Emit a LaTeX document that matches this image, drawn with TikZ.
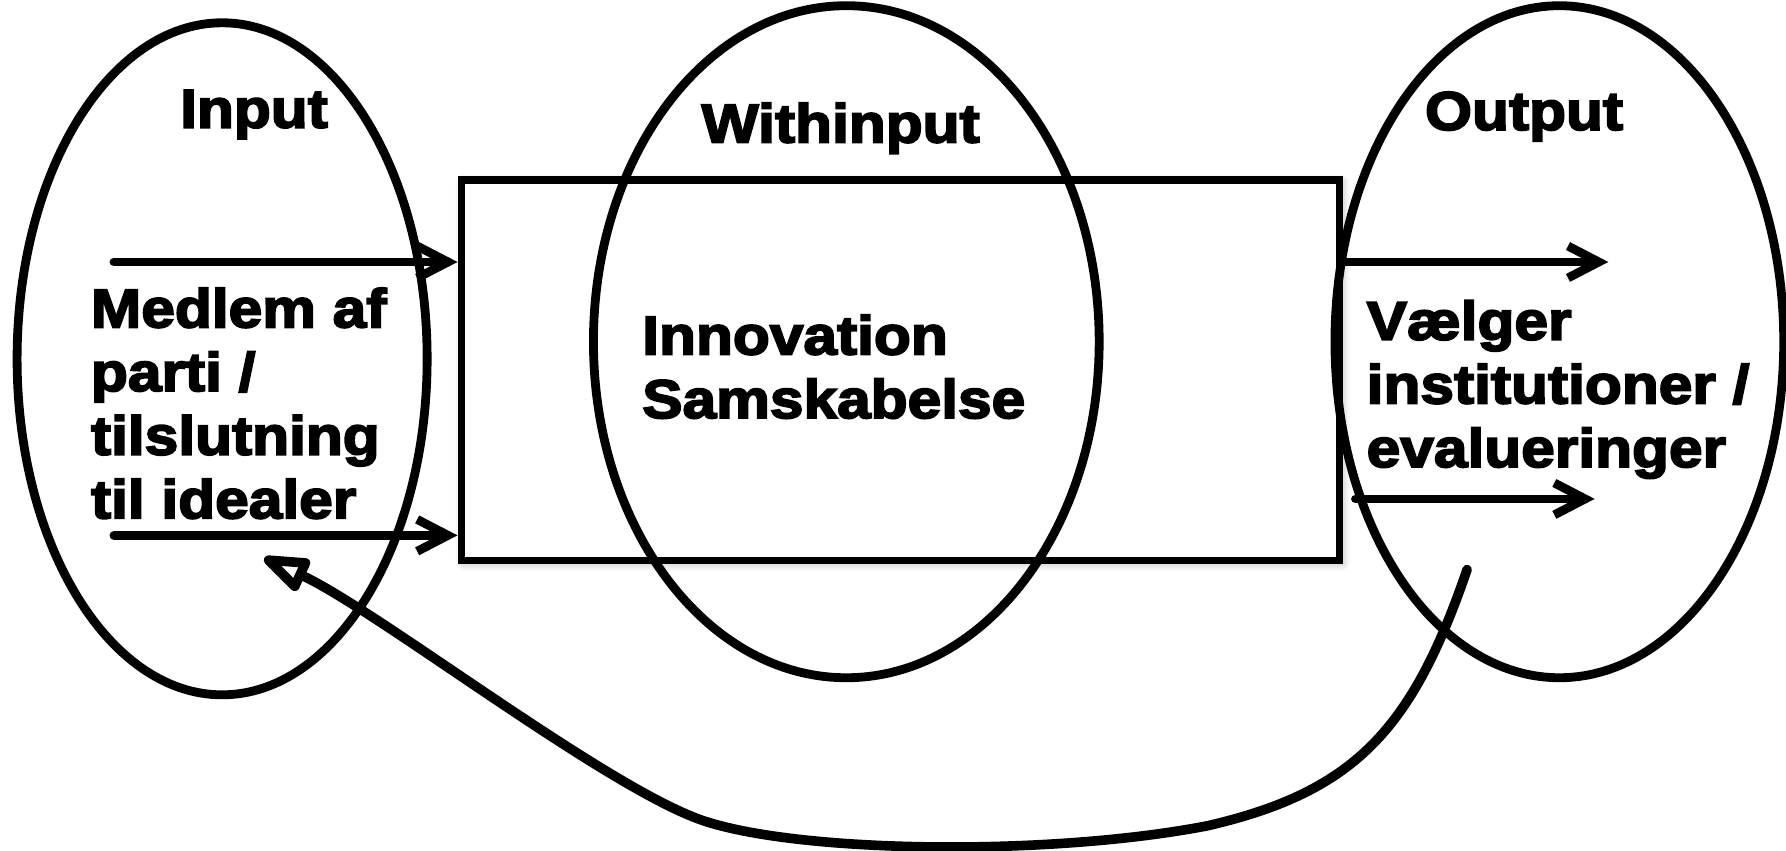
\documentclass[tikz,border=0pt]{standalone}
\usepackage{fontspec}
\newfontfamily\diafont{Liberation Sans Bold}[FakeStretch=1.11,FakeBold=3.5]
\usetikzlibrary{arrows.meta,shapes.geometric,shadows.blur}
\begin{document}
\begin{tikzpicture}[line width=2.2pt,
    every node/.style={font=\diafont\fontsize{13.6pt}{15.9pt}\selectfont, inner sep=0pt},
    sphere/.style={draw, ellipse, minimum height=5.90cm},
    title/.style={anchor=base},
    txt/.style={align=left, anchor=base west},
    flow/.style={-{Straight Barb[length=0.27cm,width=0.28cm]}, line cap=round}]
  \useasboundingbox (0,0) rectangle (15.68,-7.47);
  %\draw [help lines] (0,0) grid (16,-8);
  \node[draw, fill=white, line width=1.9pt, minimum width=7.71cm, minimum height=3.34cm,
        blur shadow={shadow xshift=0.6pt, shadow yshift=-0.6pt, shadow blur radius=2pt, shadow opacity=35}]
        (box) at (7.905,-3.25) {};
  \node[sphere, minimum width=3.60cm] (input) at (1.95,-3.15) {};
  \node[sphere, minimum width=4.44cm] (within) at (7.43,-3.00) {};
  \node[sphere, minimum width=3.94cm] (output) at (13.69,-3.00) {};

  \node[title] (inputlbl) at (2.23,-1.12) {Input};
  \node[title] (withinlbl) at (7.38,-1.25) {Withinput};
  \node[title] (outputlbl) at (13.38,-1.14) {Output};

  % base of a multi-line node is its last line
  \node[txt] (member) at (0.76,-4.55) {Medlem af\\parti /\\tilslutning\\til idealer};
  \node[txt] (innov) at (5.60,-3.67) {Innovation\\Samskabelse};
  \node[txt] (voter) at (11.96,-4.10) {Vælger\\institutioner /\\evalueringer};

  \coordinate (in1) at (1.00,-2.30);
  \coordinate (in2) at (1.00,-4.70);
  \coordinate (out1) at (14.12,-2.30);
  \coordinate (out2a) at (11.90,-4.38);
  \coordinate (out2b) at (14.00,-4.38);
  \coordinate (fbstart) at (12.88,-5.00);
  \coordinate (fbend) at (2.32,-4.90);

  \draw[flow] (in1) -- (in1 -| box.west);
  \draw[flow] (in2) -- (in2 -| box.west);
  \draw[flow] (out1 -| box.east) -- (out1);
  \draw[flow] (out2a) -- (out2b);
  \draw[line width=2.4pt, line cap=round, line join=round,
        -{Triangle[open, length=0.48cm, width=0.32cm, round]}]
    (fbstart) .. controls (12.40,-6.40) and (11.90,-6.95) .. (10.60,-7.25)
              .. controls (9.20,-7.52) and (7.00,-7.49) .. (6.16,-7.20)
              .. controls (5.30,-6.90) and (3.30,-5.35) .. (fbend);
\end{tikzpicture}
\end{document}
